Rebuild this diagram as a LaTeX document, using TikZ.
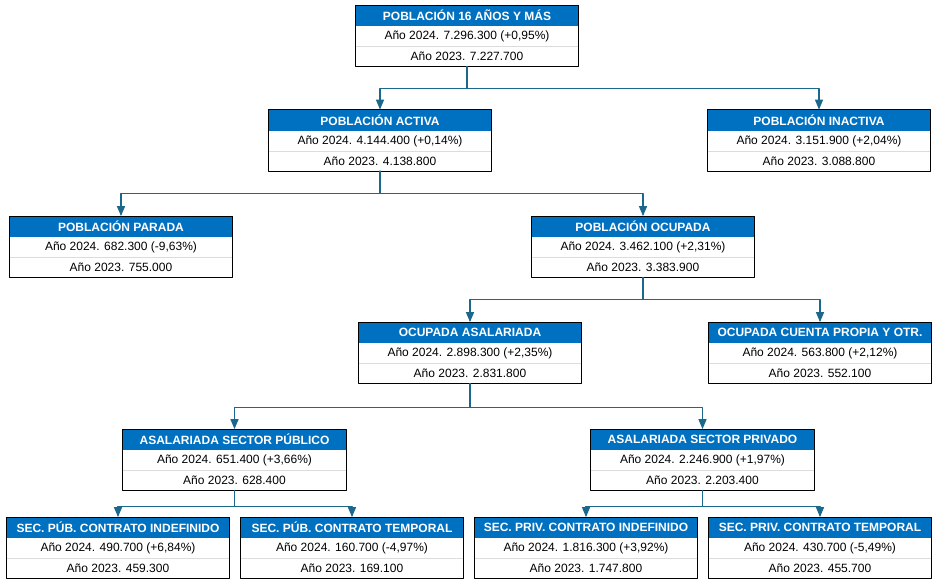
\documentclass[tikz,border=0pt]{standalone}
\usepackage{fontspec}
\setmainfont{Liberation Sans}
\usetikzlibrary{arrows,positioning}
\definecolor{azulcab}{RGB}{0,112,192}
\definecolor{azullinea}{RGB}{28,104,140}
\definecolor{grissep}{RGB}{220,220,220}

\begin{document}
\begin{tikzpicture}[line cap=round,line join=round,>=triangle 45,x=1pt,y=-1pt,
		cabecera/.style={anchor=north,fill=azulcab,text=white,font=\fontsize{12}{14}\selectfont\bfseries,minimum width=223pt,minimum height=21pt,inner sep=0pt},
		fila/.style={fill=white,font=\fontsize{12}{14}\selectfont,minimum width=223pt,minimum height=19.75pt,inner sep=0pt},
		separa/.style={line width=0.6pt,color=grissep},
		borde/.style={line width=1pt,color=black},
		enlace/.style={line width=1.3pt,color=azullinea,->}]
		\useasboundingbox (0,0) rectangle (933,579);
		% nivel 1
		\node[cabecera] (pob) at (467,5) {POBLACIÓN 16 AÑOS Y MÁS};
		\node[fila,below=0pt of pob] (pob1) {Año 2024. 7.296.300 (+0,95\%)};
		\node[fila,below=0pt of pob1] (pob2) {Año 2023. 7.227.700};
		% nivel 2
		\node[cabecera] (activa) at (380,109.5) {POBLACIÓN ACTIVA};
		\node[fila,below=0pt of activa] (activa1) {Año 2024. 4.144.400 (+0,14\%)};
		\node[fila,below=0pt of activa1] (activa2) {Año 2023. 4.138.800};
		\node[cabecera] (inactiva) at (819,109.5) {POBLACIÓN INACTIVA};
		\node[fila,below=0pt of inactiva] (inactiva1) {Año 2024. 3.151.900 (+2,04\%)};
		\node[fila,below=0pt of inactiva1] (inactiva2) {Año 2023. 3.088.800};
		% nivel 3
		\node[cabecera] (parada) at (121,216) {POBLACIÓN PARADA};
		\node[fila,below=0pt of parada] (parada1) {Año 2024. 682.300 (-9,63\%)};
		\node[fila,below=0pt of parada1] (parada2) {Año 2023. 755.000};
		\node[cabecera] (ocupada) at (643,216) {POBLACIÓN OCUPADA};
		\node[fila,below=0pt of ocupada] (ocupada1) {Año 2024. 3.462.100 (+2,31\%)};
		\node[fila,below=0pt of ocupada1] (ocupada2) {Año 2023. 3.383.900};
		% nivel 4
		\node[cabecera] (asal) at (470,322) {OCUPADA ASALARIADA};
		\node[fila,below=0pt of asal] (asal1) {Año 2024. 2.898.300 (+2,35\%)};
		\node[fila,below=0pt of asal1] (asal2) {Año 2023. 2.831.800};
		\node[cabecera] (cpropia) at (820,322) {OCUPADA CUENTA PROPIA Y OTR.};
		\node[fila,below=0pt of cpropia] (cpropia1) {Año 2024. 563.800 (+2,12\%)};
		\node[fila,below=0pt of cpropia1] (cpropia2) {Año 2023. 552.100};
		% nivel 5
		\node[cabecera] (spub) at (234.5,429) {ASALARIADA SECTOR PÚBLICO};
		\node[fila,below=0pt of spub] (spub1) {Año 2024. 651.400 (+3,66\%)};
		\node[fila,below=0pt of spub1] (spub2) {Año 2023. 628.400};
		\node[cabecera] (spriv) at (702.5,429) {ASALARIADA SECTOR PRIVADO};
		\node[fila,below=0pt of spriv] (spriv1) {Año 2024. 2.246.900 (+1,97\%)};
		\node[fila,below=0pt of spriv1] (spriv2) {Año 2023. 2.203.400};
		% nivel 6
		\node[cabecera] (pubind) at (118,517) {SEC. PÚB. CONTRATO INDEFINIDO};
		\node[fila,below=0pt of pubind] (pubind1) {Año 2024. 490.700 (+6,84\%)};
		\node[fila,below=0pt of pubind1] (pubind2) {Año 2023. 459.300};
		\node[cabecera] (pubtemp) at (352,517) {SEC. PÚB. CONTRATO TEMPORAL};
		\node[fila,below=0pt of pubtemp] (pubtemp1) {Año 2024. 160.700 (-4,97\%)};
		\node[fila,below=0pt of pubtemp1] (pubtemp2) {Año 2023. 169.100};
		\node[cabecera] (privind) at (586,517) {SEC. PRIV. CONTRATO INDEFINIDO};
		\node[fila,below=0pt of privind] (privind1) {Año 2024. 1.816.300 (+3,92\%)};
		\node[fila,below=0pt of privind1] (privind2) {Año 2023. 1.747.800};
		\node[cabecera] (privtemp) at (820,517) {SEC. PRIV. CONTRATO TEMPORAL};
		\node[fila,below=0pt of privtemp] (privtemp1) {Año 2024. 430.700 (-5,49\%)};
		\node[fila,below=0pt of privtemp1] (privtemp2) {Año 2023. 455.700};
		% separadores y bordes
		\draw[separa] (pob1.south west) -- (pob1.south east);
		\draw[borde] (pob.north west) rectangle (pob2.south east);
		\draw[separa] (activa1.south west) -- (activa1.south east);
		\draw[borde] (activa.north west) rectangle (activa2.south east);
		\draw[separa] (inactiva1.south west) -- (inactiva1.south east);
		\draw[borde] (inactiva.north west) rectangle (inactiva2.south east);
		\draw[separa] (parada1.south west) -- (parada1.south east);
		\draw[borde] (parada.north west) rectangle (parada2.south east);
		\draw[separa] (ocupada1.south west) -- (ocupada1.south east);
		\draw[borde] (ocupada.north west) rectangle (ocupada2.south east);
		\draw[separa] (asal1.south west) -- (asal1.south east);
		\draw[borde] (asal.north west) rectangle (asal2.south east);
		\draw[separa] (cpropia1.south west) -- (cpropia1.south east);
		\draw[borde] (cpropia.north west) rectangle (cpropia2.south east);
		\draw[separa] (spub1.south west) -- (spub1.south east);
		\draw[borde] (spub.north west) rectangle (spub2.south east);
		\draw[separa] (spriv1.south west) -- (spriv1.south east);
		\draw[borde] (spriv.north west) rectangle (spriv2.south east);
		\draw[separa] (pubind1.south west) -- (pubind1.south east);
		\draw[borde] (pubind.north west) rectangle (pubind2.south east);
		\draw[separa] (pubtemp1.south west) -- (pubtemp1.south east);
		\draw[borde] (pubtemp.north west) rectangle (pubtemp2.south east);
		\draw[separa] (privind1.south west) -- (privind1.south east);
		\draw[borde] (privind.north west) rectangle (privind2.south east);
		\draw[separa] (privtemp1.south west) -- (privtemp1.south east);
		\draw[borde] (privtemp.north west) rectangle (privtemp2.south east);
		% enlaces
		\draw[enlace] (pob2.south) -- ++(0,22) -| (activa.north);
		\draw[enlace] (pob2.south) -- ++(0,22) -| (inactiva.north);
		\draw[enlace] (activa2.south) -- ++(0,22.5) -| (parada.north);
		\draw[enlace] (activa2.south) -- ++(0,22.5) -| (ocupada.north);
		\draw[enlace] (ocupada2.south) -- ++(0,22) -| (asal.north);
		\draw[enlace] (ocupada2.south) -- ++(0,22) -| (cpropia.north);
		\draw[enlace] (asal2.south) -- ++(0,24) -| (spub.north);
		\draw[enlace] (asal2.south) -- ++(0,24) -| (spriv.north);
		\draw[enlace] (spub2.south) -- ++(0,16) -| (pubind.north);
		\draw[enlace] (spub2.south) -- ++(0,16) -| (pubtemp.north);
		\draw[enlace] (spriv2.south) -- ++(0,16) -| (privind.north);
		\draw[enlace] (spriv2.south) -- ++(0,16) -| (privtemp.north);
	\end{tikzpicture}
\end{document}
